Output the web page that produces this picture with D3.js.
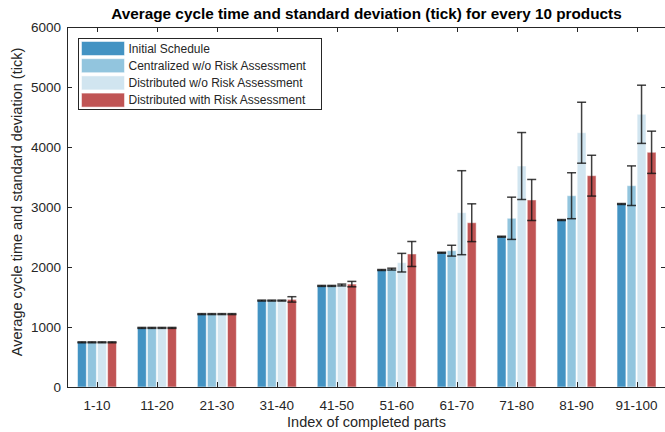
<!DOCTYPE html>
<html>
<head>
<meta charset="utf-8">
<script src="https://cdn.jsdelivr.net/npm/d3@7"></script>
<style>
  body { margin: 0; background: #fff; overflow: hidden; }
  svg { display: block; font-family: "Liberation Sans", Arial, sans-serif; }
</style>
</head>
<body>
<div id="chart"></div>
<script>
const categories = ["1-10", "11-20", "21-30", "31-40", "41-50", "51-60", "61-70", "71-80", "81-90", "91-100"];
const seriesNames = ["Initial Schedule", "Centralized w/o Risk Assessment", "Distributed w/o Risk Assessment", "Distributed with Risk Assessment"];
const initialMean = [745, 985, 1215, 1440, 1685, 1950, 2238, 2505, 2783, 3050];
const centralMean = [745, 985, 1215, 1440, 1685, 1965, 2272, 2812, 3188, 3355];
const distNoRiskMean = [745, 985, 1215, 1440, 1700, 2072, 2905, 3683, 4238, 4545];
const distRiskMean = [745, 985, 1215, 1460, 1715, 2217, 2738, 3117, 3522, 3912];
const initialSd = [8, 8, 8, 8, 8, 8, 8, 8, 8, 8];
const centralSd = [8, 8, 8, 8, 8, 15, 90, 352, 383, 330];
const distNoRiskSd = [8, 8, 8, 8, 15, 155, 700, 558, 508, 485];
const distRiskSd = [8, 8, 8, 45, 45, 208, 315, 342, 340, 352];
const yTicks = [0, 1000, 2000, 3000, 4000, 5000, 6000];
const colors = ["#4393c3", "#92c5de", "#d1e5f0", "#c05454"];

const means = [initialMean, centralMean, distNoRiskMean, distRiskMean];
const sds = [initialSd, centralSd, distNoRiskSd, distRiskSd];

const width = 665, height = 432;
const margin = { top: 27, right: -1.5, bottom: 45, left: 67 };
const textColor = "#262626";

const svg = d3.select("#chart").append("svg")
  .attr("width", width).attr("height", height);

const x0 = d3.scaleBand().domain(categories)
  .range([margin.left, width - margin.right])
  .paddingInner(0.31).paddingOuter(0.155);
const x1 = d3.scaleBand().domain(d3.range(4))
  .range([0, x0.bandwidth()]).padding(0.12);
const y = d3.scaleLinear().domain([0, 6000])
  .range([height - margin.bottom, margin.top]);

const flat = [];
categories.forEach((c, i) => {
  seriesNames.forEach((s, j) => {
    flat.push({ cat: c, s: j, mean: means[j][i], sd: sds[j][i] });
  });
});

// bars
svg.append("g").selectAll("rect").data(flat).join("rect")
  .attr("x", (d) => x0(d.cat) + x1(d.s))
  .attr("width", x1.bandwidth())
  .attr("y", (d) => y(d.mean))
  .attr("height", (d) => y(0) - y(d.mean))
  .attr("fill", (d) => colors[d.s])
  .attr("stroke", "#fff").attr("stroke-opacity", 0.5).attr("stroke-width", 1);

// error bars
const capW = 4.5;
const gErr = svg.append("g").attr("stroke", "#111").attr("stroke-opacity", 0.8).attr("stroke-width", 1.5);
flat.forEach((d) => {
  const cx = x0(d.cat) + x1(d.s) + x1.bandwidth() / 2;
  const y1 = y(d.mean + d.sd), y2 = y(d.mean - d.sd);
  gErr.append("line").attr("x1", cx).attr("x2", cx).attr("y1", y1).attr("y2", y2);
  gErr.append("line").attr("x1", cx - capW).attr("x2", cx + capW).attr("y1", y1).attr("y2", y1);
  gErr.append("line").attr("x1", cx - capW).attr("x2", cx + capW).attr("y1", y2).attr("y2", y2);
});

// axes box with inward ticks
const x0Pos = margin.left, x1Pos = width - margin.right - 0.5;
const yTop = margin.top, yBot = height - margin.bottom;
const axisG = svg.append("g").attr("stroke", textColor).attr("stroke-width", 1).attr("fill", "none");
axisG.append("rect").attr("x", x0Pos + 0.5).attr("y", yTop + 0.5)
  .attr("width", x1Pos - x0Pos - 0.5).attr("height", yBot - yTop);
categories.forEach((c) => {
  const cx = Math.round(x0(c) + x0.bandwidth() / 2) + 0.5;
  axisG.append("line").attr("x1", cx).attr("x2", cx).attr("y1", yBot).attr("y2", yBot - 5);
  axisG.append("line").attr("x1", cx).attr("x2", cx).attr("y1", yTop).attr("y2", yTop + 5);
});
yTicks.forEach((t) => {
  const ty = Math.round(y(t)) + 0.5;
  axisG.append("line").attr("x1", x0Pos).attr("x2", x0Pos + 5).attr("y1", ty).attr("y2", ty);
  axisG.append("line").attr("x1", x1Pos).attr("x2", x1Pos - 5).attr("y1", ty).attr("y2", ty);
});

// tick labels
svg.append("g").selectAll("text").data(categories).join("text")
  .attr("x", (d) => x0(d) + x0.bandwidth() / 2)
  .attr("y", yBot + 23)
  .attr("text-anchor", "middle")
  .attr("font-size", 13.5).attr("fill", textColor)
  .text((d) => d);
svg.append("g").selectAll("text").data(yTicks).join("text")
  .attr("x", x0Pos - 6)
  .attr("y", (d) => y(d))
  .attr("dy", "0.35em")
  .attr("text-anchor", "end")
  .attr("font-size", 13.5).attr("fill", textColor)
  .text((d) => d);

// labels
svg.append("text")
  .attr("x", (x0Pos + x1Pos) / 2).attr("y", 19)
  .attr("text-anchor", "middle")
  .attr("font-size", 15.3).attr("font-weight", "bold").attr("fill", "#000")
  .text("Average cycle time and standard deviation (tick) for every 10 products");
svg.append("text")
  .attr("x", (x0Pos + x1Pos) / 2).attr("y", 427)
  .attr("text-anchor", "middle")
  .attr("font-size", 14.5).attr("fill", textColor)
  .text("Index of completed parts");
svg.append("text")
  .attr("transform", `translate(22,202) rotate(-90)`)
  .attr("text-anchor", "middle")
  .attr("font-size", 14.5).attr("fill", textColor)
  .text("Average cycle time and standard deviation (tick)");

// legend
const legend = svg.append("g").attr("transform", "translate(78.5,38.5)");
legend.append("rect").attr("width", 243).attr("height", 71)
  .attr("fill", "#fff").attr("stroke", textColor).attr("stroke-width", 1);
seriesNames.forEach((name, i) => {
  const row = legend.append("g").attr("transform", `translate(3,${3 + i * 17.2})`);
  row.append("rect").attr("width", 43).attr("height", 14).attr("fill", colors[i])
    .attr("stroke", "#fff").attr("stroke-opacity", 0.5);
  row.append("text").attr("x", 47).attr("y", 7).attr("dy", "0.35em")
    .attr("font-size", 12).attr("fill", textColor).text(name);
});
</script>
</body>
</html>
